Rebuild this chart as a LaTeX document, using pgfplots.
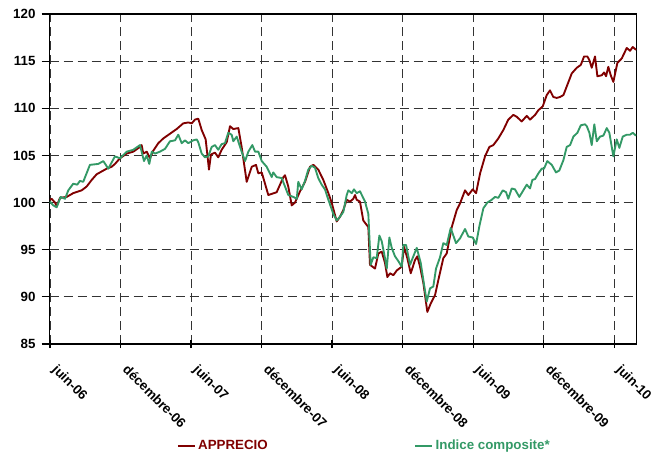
\documentclass[border=0pt]{standalone}
\usepackage{fontspec}
\setmainfont{Liberation Sans}
\usepackage{pgfplots}
\pgfplotsset{compat=1.18}

\definecolor{apred}{RGB}{128,0,0}
\definecolor{icgreen}{RGB}{51,153,102}

\begin{document}
\begin{tikzpicture}
% fixed page: 663 x 455 px at 0.75pt per px
\path[use as bounding box] (-37.125pt,-83.25pt) rectangle (460.125pt,258pt);
\begin{axis}[
  at={(0,0)}, anchor=south west,
  scale only axis,
  width=440.25pt, height=247.5pt,
  xmin=-0.04, xmax=49.91,
  ymin=85, ymax=120,
  xtick={0,6,...,48},
  xticklabels={juin-06,décembre-06,juin-07,décembre-07,juin-08,décembre-08,juin-09,décembre-09,juin-10},
  ytick={85,90,...,120},
  tick pos=left,
  grid=major,
  major grid style={black!80, line width=0.65pt, dash pattern=on 7pt off 3.5pt},
  axis line style={black, line width=0.8pt},
  tick style={black, line width=0.8pt},
  xtick align=center,
  ytick align=outside,
  major tick length=6pt,
  /pgf/number format/assume math mode=true,
  xticklabel style={font=\bfseries\fontsize{10}{12}\selectfont,
    xshift=6.4pt, yshift=-6.8pt, rotate=-45, anchor=north west},
  yticklabel style={font=\bfseries\fontsize{10}{12}\selectfont, xshift=-1pt},
  legend columns=2,
  legend style={draw=none, fill=none, inner sep=0pt,
    at={(axis description cs:0.2167,-0.308)}, anchor=west,
    font=\bfseries\fontsize{10}{12}\selectfont,
    /tikz/every even column/.append style={column sep=108pt}},
  legend cell align=left,
  legend image code/.code={\draw[#1] (0pt,0pt) -- (12.5pt,0pt);},
]

\addplot[apred, line width=1.4pt, line join=round] coordinates {
(0,100.3)(0.14,100.4)(0.43,100.0)(0.57,99.6)(0.85,100.5)(1.42,100.6)(1.98,101.0)
(2.70,101.3)(3.12,101.7)(3.55,102.4)(3.97,103.0)(4.40,103.3)(4.83,103.6)(5.25,103.8)
(5.53,104.1)(5.96,104.7)(6.53,105.2)(7.09,105.4)(7.66,105.9)(7.80,106.1)(7.94,105.2)
(8.23,105.4)(8.51,104.7)(8.79,105.5)(9.22,106.3)(9.64,106.8)(10.21,107.3)(10.78,107.8)
(11.34,108.4)(11.77,108.5)(12.06,108.4)(12.34,108.8)(12.62,108.9)(12.91,107.7)(13.25,106.7)
(13.53,103.5)(13.70,105.1)(14.04,105.3)(14.32,104.8)(14.61,105.6)(15.04,106.4)(15.32,108.1)
(15.60,107.8)(16.03,107.9)(16.31,105.9)(16.74,102.2)(17.17,103.8)(17.53,104.0)(17.73,103.1)
(18.02,103.2)(18.58,100.8)(19.29,101.1)(19.86,102.7)(20.00,102.9)(20.28,101.7)(20.57,99.7)
(20.85,100.0)(21.28,101.2)(21.70,102.2)(22.13,103.8)(22.41,104.0)(22.83,103.5)(23.26,102.4)
(23.69,101.0)(23.97,100.0)(24.40,98.0)(24.68,98.5)(24.96,99.2)(25.25,100.3)(25.53,100.1)
(25.81,100.4)(25.96,100.8)(26.10,100.3)(26.38,100.1)(26.66,98.1)(27.09,97.4)(27.23,93.4)
(27.66,93.0)(27.94,94.6)(28.23,94.8)(28.51,93.6)(28.71,92.1)(28.94,92.5)(29.22,92.3)
(29.51,92.8)(29.93,93.2)(30.13,95.3)(30.41,94.1)(30.70,92.5)(31.06,93.9)(31.26,94.3)
(31.49,93.2)(31.77,91.5)(32.11,88.4)(32.40,89.3)(32.77,90.2)(33.05,91.8)(33.47,94.1)
(33.76,94.6)(34.19,97.4)(34.61,99.2)(34.89,99.9)(35.32,101.3)(35.60,100.8)(35.97,101.4)
(36.26,101.0)(36.60,103.1)(37.02,104.9)(37.39,105.9)(37.73,106.1)(38.15,106.8)(38.58,107.7)
(39.00,108.8)(39.43,109.3)(39.72,109.1)(40.14,108.6)(40.57,109.2)(40.85,108.8)(41.28,109.3)
(41.56,109.8)(41.93,110.2)(42.27,111.4)(42.55,111.9)(42.83,111.2)(43.12,111.1)(43.40,111.2)
(43.69,111.4)(44.03,112.5)(44.40,113.7)(44.83,114.3)(45.17,114.6)(45.45,115.5)(45.73,115.5)
(45.90,115.1)(46.10,114.3)(46.38,115.5)(46.58,113.4)(46.95,113.5)(47.15,113.8)(47.32,113.4)
(47.51,114.4)(47.72,113.5)(47.94,112.8)(48.28,114.8)(48.66,115.3)(49.08,116.4)(49.36,116.1)
(49.59,116.5)(49.87,116.2)
};
\addlegendentry{\textcolor{apred}{APPRECIO}}

\addplot[icgreen, line width=1.4pt, line join=round] coordinates {
(0,100.1)(0.28,99.7)(0.57,99.5)(0.91,100.6)(1.28,100.4)(1.56,101.3)(1.98,102.0)
(2.32,101.9)(2.55,102.3)(2.83,102.2)(3.40,104.0)(4.11,104.1)(4.54,104.4)(4.96,103.6)
(5.53,104.9)(5.96,104.7)(6.53,105.4)(7.09,105.6)(7.66,106.1)(8.00,104.4)(8.23,105.0)
(8.45,104.1)(8.66,105.4)(8.94,105.2)(9.36,105.4)(9.79,105.7)(10.21,106.5)(10.64,106.6)
(10.92,107.2)(11.21,106.3)(11.49,106.6)(11.77,106.3)(12.19,106.6)(12.49,106.7)(12.62,106.4)
(12.91,105.2)(13.19,104.8)(13.47,104.9)(13.76,105.9)(14.04,106.1)(14.32,105.6)(14.61,106.2)
(14.89,106.3)(15.17,107.4)(15.46,107.2)(15.60,106.5)(15.89,107.0)(16.31,105.4)(16.60,104.4)
(16.88,105.4)(17.22,106.1)(17.45,105.4)(17.73,105.4)(18.02,104.4)(18.44,103.8)(18.87,102.7)
(19.00,103.2)(19.29,102.7)(19.72,102.6)(20.00,101.7)(20.28,100.8)(20.71,100.6)(21.00,100.4)
(21.13,102.2)(21.42,101.4)(21.70,102.3)(21.98,103.5)(22.27,103.9)(22.55,103.7)(22.83,102.6)
(23.12,101.9)(23.40,101.4)(23.69,100.3)(24.11,98.8)(24.40,98.1)(24.68,98.5)(24.96,99.0)
(25.25,100.8)(25.39,101.3)(25.68,101.0)(25.87,101.4)(26.10,101.0)(26.38,101.2)(26.81,100.1)
(27.09,98.8)(27.29,93.4)(27.52,94.2)(27.80,94.1)(28.03,96.5)(28.23,95.9)(28.51,94.1)
(28.66,93.0)(28.88,96.3)(29.08,95.2)(29.36,94.3)(29.64,93.8)(29.93,93.2)(30.07,95.5)
(30.30,95.5)(30.64,93.4)(30.92,94.3)(31.21,95.2)(31.55,93.6)(31.77,91.8)(32.06,89.5)
(32.34,90.9)(32.62,91.1)(32.85,93.0)(33.19,94.2)(33.47,95.7)(33.76,95.5)(34.10,97.3)
(34.55,95.7)(34.89,96.2)(35.32,97.2)(35.60,96.4)(35.97,96.3)(36.26,95.6)(36.54,97.5)
(36.88,99.4)(37.22,100.0)(37.59,100.3)(37.87,100.6)(38.15,100.5)(38.53,101.3)(38.81,101.1)
(39.00,100.4)(39.29,101.5)(39.57,101.4)(39.94,100.6)(40.28,101.3)(40.57,101.9)(40.85,101.5)
(41.05,102.4)(41.28,102.5)(41.56,103.1)(41.85,103.6)(42.04,103.6)(42.32,104.4)(42.70,104.0)
(43.06,103.2)(43.34,103.4)(43.69,104.5)(43.97,105.9)(44.26,106.1)(44.54,107.0)(44.88,107.4)
(45.17,108.2)(45.53,108.3)(45.68,108.1)(45.90,107.4)(46.10,106.1)(46.32,108.3)(46.53,106.5)
(46.81,107.0)(47.09,107.1)(47.38,107.9)(47.60,107.4)(47.94,104.9)(48.23,106.7)(48.45,105.8)
(48.74,107.0)(49.08,107.2)(49.36,107.2)(49.59,107.4)(49.87,107.1)
};
\addlegendentry{\textcolor{icgreen}{Indice composite*}}

\end{axis}
\end{tikzpicture}
\end{document}
